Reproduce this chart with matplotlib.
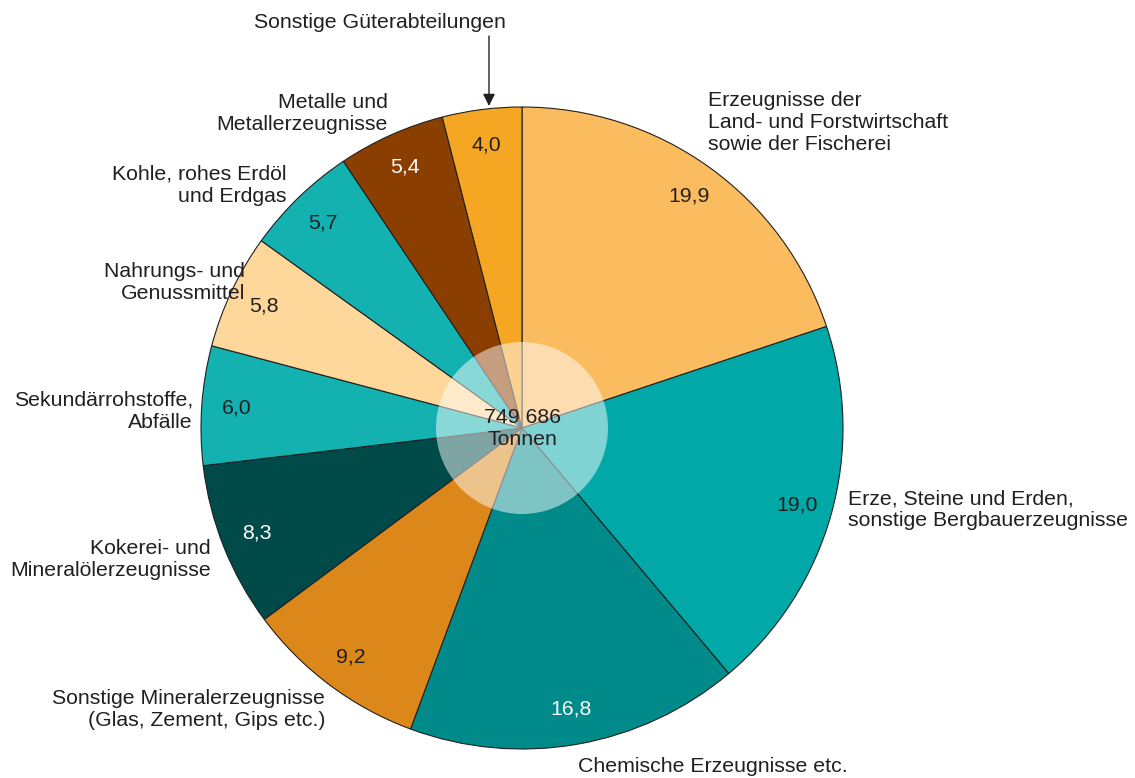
import numpy as np
import matplotlib
matplotlib.use("Agg")
import matplotlib.pyplot as plt
from matplotlib.patches import Circle

plt.rcParams['font.family'] = ['Liberation Sans', 'DejaVu Sans']

# shares in percent, clockwise from 12 o'clock
values = [19.9, 19.0, 16.8, 9.2, 8.3, 6.0, 5.8, 5.7, 5.4, 4.0]
colors = ['#FBBC5F', '#00A8A8', '#008A8A', '#DC8719', '#004A4A',
          '#14B1B1', '#FDD89A', '#14B1B1', '#8A3E00', '#F5A623']
value_colors = ['#231F20', '#231F20', 'white', '#231F20', 'white',
                '#231F20', '#231F20', '#231F20', 'white', '#231F20']
total_text = "749 686\nTonnen"

# outside labels: text, x, y (pixel coords, y from top), alignment
labels = [
    ("Erzeugnisse der\nLand- und Forstwirtschaft\nsowie der Fischerei", 708, 122, 'left'),
    ("Erze, Steine und Erden,\nsonstige Bergbauerzeugnisse", 848, 510, 'left'),
    ("Chemische Erzeugnisse etc.", 578, 767, 'left'),
    ("Sonstige Mineralerzeugnisse\n(Glas, Zement, Gips etc.)", 325, 709, 'right'),
    ("Kokerei- und\nMineralölerzeugnisse", 211, 560, 'right'),
    ("Sekundärrohstoffe,\nAbfälle", 193, 411, 'right'),
    ("Nahrungs- und\nGenussmittel", 245, 282, 'right'),
    ("Kohle, rohes Erdöl\nund Erdgas", 287, 185, 'right'),
    ("Metalle und\nMetallerzeugnisse", 388, 113, 'right'),
    ("Sonstige Güterabteilungen", 380, 22, 'center'),
]

W, H = 1135, 778
fig = plt.figure(figsize=(W / 100, H / 100), dpi=100)
ax = fig.add_axes([0, 0, 1, 1])

cx, cy, r = 522, H - 428, 321
wedges, _ = ax.pie(values, colors=colors, startangle=90, counterclock=False,
                   center=(cx, cy), radius=r, frame=True,
                   wedgeprops=dict(edgecolor='#231F20', linewidth=0.8))
ax.set_xlim(0, W)
ax.set_ylim(0, H)
ax.axis('off')

for w, v, tc in zip(wedges, values, value_colors):
    ang = np.deg2rad((w.theta1 + w.theta2) / 2)
    x = cx + 0.89 * r * np.cos(ang)
    y = cy + 0.89 * r * np.sin(ang)
    ax.text(x, y, f"{v:.1f}".replace('.', ','), color=tc, fontsize=15.3,
            ha='center', va='center')

# translucent disc in the middle with the total
ax.add_patch(Circle((cx, cy), 86, facecolor='white', alpha=0.5, edgecolor='none', zorder=5))
ax.text(cx, cy, total_text, fontsize=15.3, color='#231F20', ha='center', va='center',
        linespacing=1.2, zorder=6)

for txt, x, y, ha in labels:
    ax.text(x, H - y, txt, fontsize=15.3, color='#231F20', ha=ha, va='center',
            multialignment=ha, linespacing=1.2)

ax.annotate('', xy=(489, H - 106), xytext=(489, H - 36),
            arrowprops=dict(arrowstyle='-|>', color='#231F20', lw=1.0,
                            mutation_scale=18, shrinkA=0, shrinkB=0))

fig.savefig('out.png', dpi=100)
